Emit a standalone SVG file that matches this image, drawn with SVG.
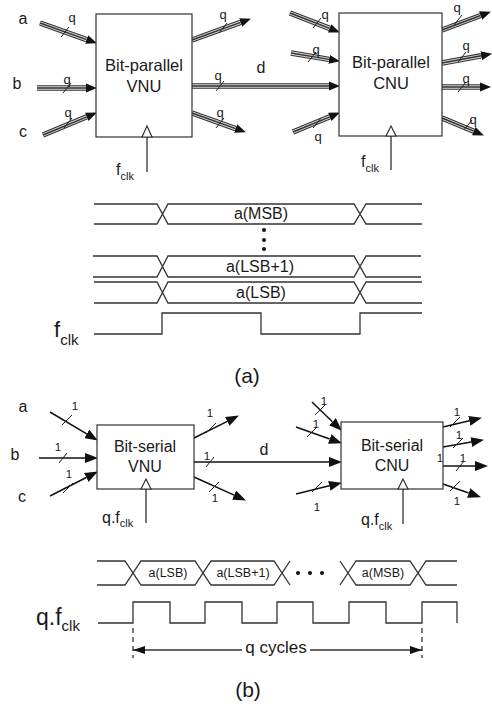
<svg xmlns="http://www.w3.org/2000/svg" width="492" height="707" viewBox="0 0 492 707">
<defs>
<style>
.box{fill:#fff;stroke:#333;stroke-width:1.2}
.t{font-family:"Liberation Sans",Arial,sans-serif;fill:#1a1a1a}
.m{text-anchor:middle}
.bo{stroke:#333;stroke-width:5.5;fill:none}
.bw{stroke:#d8d8d8;stroke-width:3.4;fill:none}
.bi{stroke:#333;stroke-width:1.4;fill:none;marker-end:url(#ah)}
.ser{stroke:#111;stroke-width:1.5;fill:none;marker-end:url(#as)}
.sl{stroke:#222;stroke-width:1;fill:none}
.w{stroke:#333;stroke-width:1.3;fill:none}
.clk{fill:#fff;stroke:#333;stroke-width:1.2}
.q{font-size:13px}
.one{font-size:11.5px}
</style>
<marker id="ah" markerUnits="userSpaceOnUse" markerWidth="11" markerHeight="10" refX="0" refY="5" orient="auto"><path d="M0,0.5 L11,5 L0,9.5 z" fill="#111"/></marker>
<marker id="as" markerUnits="userSpaceOnUse" markerWidth="13" markerHeight="10" refX="0" refY="5" orient="auto"><path d="M0,0 L13,5 L0,10 z" fill="#111"/></marker>
<marker id="dl" markerUnits="userSpaceOnUse" markerWidth="12" markerHeight="8" refX="12" refY="4" orient="auto"><path d="M0,0 L12,4 L0,8 z" fill="#111"/></marker>
</defs>

<g id="connectors">
<!-- parallel buses -->
<g id="bus-a"><path class="bo" d="M40,23 L86.6,39.6"/><path class="bw" d="M40,23 L86.6,39.6"/><path class="bi" d="M40,23 L86.6,39.6"/></g>
<g id="bus-b"><path class="bo" d="M37,88 L86,88"/><path class="bw" d="M37,88 L86,88"/><path class="bi" d="M37,88 L86,88"/></g>
<g id="bus-c"><path class="bo" d="M43,135 L86.8,116.8"/><path class="bw" d="M43,135 L86.8,116.8"/><path class="bi" d="M43,135 L86.8,116.8"/></g>
<g id="bus-vo1"><path class="bo" d="M192,40 L240.6,22.4"/><path class="bw" d="M192,40 L240.6,22.4"/><path class="bi" d="M192,40 L240.6,22.4"/></g>
<g id="bus-d"><path class="bo" d="M192,86 L329,86"/><path class="bw" d="M192,86 L329,86"/><path class="bi" d="M192,86 L329,86"/></g>
<g id="bus-vo3"><path class="bo" d="M192,113 L235.6,128.6"/><path class="bw" d="M192,113 L235.6,128.6"/><path class="bi" d="M192,113 L235.6,128.6"/></g>
<g id="bus-ci1"><path class="bo" d="M290,13 L329.7,28.4"/><path class="bw" d="M290,13 L329.7,28.4"/><path class="bi" d="M290,13 L329.7,28.4"/></g>
<g id="bus-ci2"><path class="bo" d="M291,53 L329.1,59.4"/><path class="bw" d="M291,53 L329.1,59.4"/><path class="bi" d="M291,53 L329.1,59.4"/></g>
<g id="bus-ci4"><path class="bo" d="M293,132 L329.8,116.8"/><path class="bw" d="M293,132 L329.8,116.8"/><path class="bi" d="M293,132 L329.8,116.8"/></g>
<g id="bus-co1"><path class="bo" d="M442,30 L480.6,15.5"/><path class="bw" d="M442,30 L480.6,15.5"/><path class="bi" d="M442,30 L480.6,15.5"/></g>
<g id="bus-co2"><path class="bo" d="M442,63 L481.2,55.8"/><path class="bw" d="M442,63 L481.2,55.8"/><path class="bi" d="M442,63 L481.2,55.8"/></g>
<g id="bus-co3"><path class="bo" d="M442,87 L480,87"/><path class="bw" d="M442,87 L480,87"/><path class="bi" d="M442,87 L480,87"/></g>
<g id="bus-co4"><path class="bo" d="M442,118 L473.8,131.2"/><path class="bw" d="M442,118 L473.8,131.2"/><path class="bi" d="M442,118 L473.8,131.2"/></g>
<!-- slashes parallel -->
<path class="sl" d="M61,37 L69,27 M63,93 L71,83 M64,128 L72,118 M219,33 L227,23 M216,91 L224,81 M216,128 L224,118 M313,28 L321,18 M308,62 L316,52 M313,128 L321,118 M454,25 L462,15 M458,62 L466,52 M458,92 L466,82 M464,130 L472,120"/>
<!-- serial lines -->
<path class="ser" d="M50,412 L86.7,433.9"/>
<path class="ser" d="M39,458 L85,458"/>
<path class="ser" d="M50,496 L86.3,477.5"/>
<path class="ser" d="M194,438 L227.3,421.4"/>
<path class="ser" d="M194,462 L329,462"/>
<path class="ser" d="M194,477 L234.1,495.1"/>
<path class="ser" d="M312,402 L332.4,421.7"/>
<path class="ser" d="M296,427 L329.7,439"/>
<path class="ser" d="M296,494 L329.3,485.8"/>
<path class="ser" d="M443,427 L469.3,420.8"/>
<path class="ser" d="M443,447 L471.2,442.1"/>
<path class="ser" d="M443,466 L475,466"/>
<path class="ser" d="M443,484 L468.7,493"/>
<!-- slashes serial -->
<path class="sl" d="M62,425 L72,415 M59,463 L67,453 M63,493 L73,483 M206,433 L216,423 M206,467 L214,457 M209,492 L219,482 M315,415 L325,405 M307,437 L317,427 M312,492 L322,482 M450,427 L460,417 M453,448 L463,438 M456,471 L464,461 M450,491 L460,481"/>
<!-- clock lines -->
<path class="w" d="M147,137 V172 M391,136 V170 M146,489 V523 M403,489 V524"/>
</g>

<g id="vnu-parallel">
<rect class="box" x="96" y="14" width="96" height="123"/>
<text class="t m" x="144" y="71" font-size="16.5">Bit-parallel</text>
<text class="t m" x="144" y="92" font-size="16.5">VNU</text>
<polygon class="clk" points="142,137 147,126 152,137"/>
</g>

<g id="cnu-parallel">
<rect class="box" x="339" y="13" width="103" height="123"/>
<text class="t m" x="391" y="68" font-size="16.5">Bit-parallel</text>
<text class="t m" x="391" y="89" font-size="16.5">CNU</text>
<polygon class="clk" points="386,136 391,126 396,136"/>
</g>

<g id="labels-parallel">
<text class="t m" x="23" y="24" font-size="16">a</text>
<text class="t m" x="17" y="89" font-size="16">b</text>
<text class="t m" x="23" y="137" font-size="16">c</text>
<text class="t m" x="261" y="73" font-size="16">d</text>
<text class="t q m" x="72" y="22">q</text>
<text class="t q m" x="67" y="84">q</text>
<text class="t q m" x="68" y="117">q</text>
<text class="t q m" x="223" y="19">q</text>
<text class="t q m" x="218" y="80">q</text>
<text class="t q m" x="220" y="117">q</text>
<text class="t q m" x="325" y="19">q</text>
<text class="t q m" x="316" y="54">q</text>
<text class="t q m" x="318" y="141">q</text>
<text class="t q m" x="457" y="12">q</text>
<text class="t q m" x="466" y="50">q</text>
<text class="t q m" x="466" y="83">q</text>
<text class="t q m" x="473" y="124">q</text>
<text class="t" x="116" y="175" font-size="16">f<tspan font-size="11" dy="5">clk</tspan></text>
<text class="t" x="361" y="167" font-size="16">f<tspan font-size="11" dy="5">clk</tspan></text>
</g>

<g id="timing-a">
<path class="w" d="M94,204 H157 L168,224 H354 L366,204 H422 M94,224 H157 L168,204 H354 L366,224 H422"/>
<path class="w" d="M93,256 H157 L168,277 H354 L366,256 H421 M93,277 H157 L168,256 H354 L366,277 H421"/>
<path class="w" d="M94,282 H157 L168,303 H354 L366,282 H422 M94,303 H157 L168,282 H354 L366,303 H422"/>
<text class="t m" x="261" y="219" font-size="16">a(MSB)</text>
<circle cx="264" cy="230" r="2" fill="#111"/>
<circle cx="264" cy="240" r="2" fill="#111"/>
<circle cx="264" cy="249" r="2" fill="#111"/>
<text class="t m" x="260" y="272" font-size="16">a(LSB+1)</text>
<text class="t m" x="261" y="298" font-size="16">a(LSB)</text>
<path class="w" d="M94,334 H162 V313 H261 V334 H360 V313 H422"/>
<text class="t" x="54" y="337" font-size="22">f<tspan font-size="15" dy="8">clk</tspan></text>
<text class="t m" x="247" y="383" font-size="21">(a)</text>
</g>

<g id="vnu-serial">
<rect class="box" x="97" y="425" width="97" height="64"/>
<text class="t m" x="145" y="452" font-size="16">Bit-serial</text>
<text class="t m" x="145" y="472" font-size="16">VNU</text>
<polygon class="clk" points="141,489 146,479 151,489"/>
</g>

<g id="cnu-serial">
<rect class="box" x="341" y="422" width="102" height="67"/>
<text class="t m" x="392" y="451" font-size="16">Bit-serial</text>
<text class="t m" x="392" y="471" font-size="16">CNU</text>
<polygon class="clk" points="398,489 403,479 408,489"/>
</g>

<g id="labels-serial">
<text class="t m" x="23" y="412" font-size="16">a</text>
<text class="t m" x="15" y="460" font-size="16">b</text>
<text class="t m" x="22" y="502" font-size="16">c</text>
<text class="t m" x="264" y="455" font-size="16">d</text>
<text class="t one m" x="75" y="410">1</text>
<text class="t one m" x="58" y="451">1</text>
<text class="t one m" x="69" y="478">1</text>
<text class="t one m" x="210" y="417">1</text>
<text class="t one m" x="207" y="460">1</text>
<text class="t one m" x="215" y="502">1</text>
<text class="t one m" x="324" y="405">1</text>
<text class="t one m" x="316" y="428">1</text>
<text class="t one m" x="317" y="511">1</text>
<text class="t one m" x="457" y="416">1</text>
<text class="t one m" x="459" y="439">1</text>
<text class="t one m" x="440" y="462">1</text>
<text class="t one m" x="463" y="462">1</text>
<text class="t one m" x="457" y="505">1</text>
<text class="t" x="102" y="523" font-size="16">q.f<tspan font-size="11" dy="4">clk</tspan></text>
<text class="t" x="361" y="525" font-size="16">q.f<tspan font-size="11" dy="5">clk</tspan></text>
</g>

<g id="timing-b">
<path class="w" d="M97,561 H125 L141,585 H195 L211,561 H274 L290,585 M97,585 H125 L141,561 H195 L211,585 H274 L290,561"/>
<path class="w" d="M340,561 L356,585 H410 L426,561 H457 M340,585 L356,561 H410 L426,585 H457"/>
<text class="t m" x="168" y="577" font-size="12.5">a(LSB)</text>
<text class="t m" x="243" y="577" font-size="12.5">a(LSB+1)</text>
<text class="t m" x="383" y="577" font-size="12.5">a(MSB)</text>
<circle cx="298" cy="573" r="2" fill="#111"/>
<circle cx="310" cy="573" r="2" fill="#111"/>
<circle cx="322" cy="573" r="2" fill="#111"/>
<path class="w" d="M98,623 H133 V602 H170 V623 H205 V602 H242 V623 H277 V602 H313 V623 H349 V602 H386 V623 H422 V602 H457 V623"/>
<text class="t" x="36" y="625" font-size="23">q.f<tspan font-size="15" dy="6">clk</tspan></text>
<path class="w" stroke-dasharray="5,4" d="M133,628 V658 M422,628 V658" stroke-width="1"/>
<path class="w" stroke-width="1.1" d="M242,650 H133" marker-end="url(#dl)"/>
<path class="w" stroke-width="1.1" d="M310,650 H422" marker-end="url(#dl)"/>
<text class="t m" x="276" y="653" font-size="17">q cycles</text>
<text class="t m" x="248" y="697" font-size="21">(b)</text>
</g>
</svg>
